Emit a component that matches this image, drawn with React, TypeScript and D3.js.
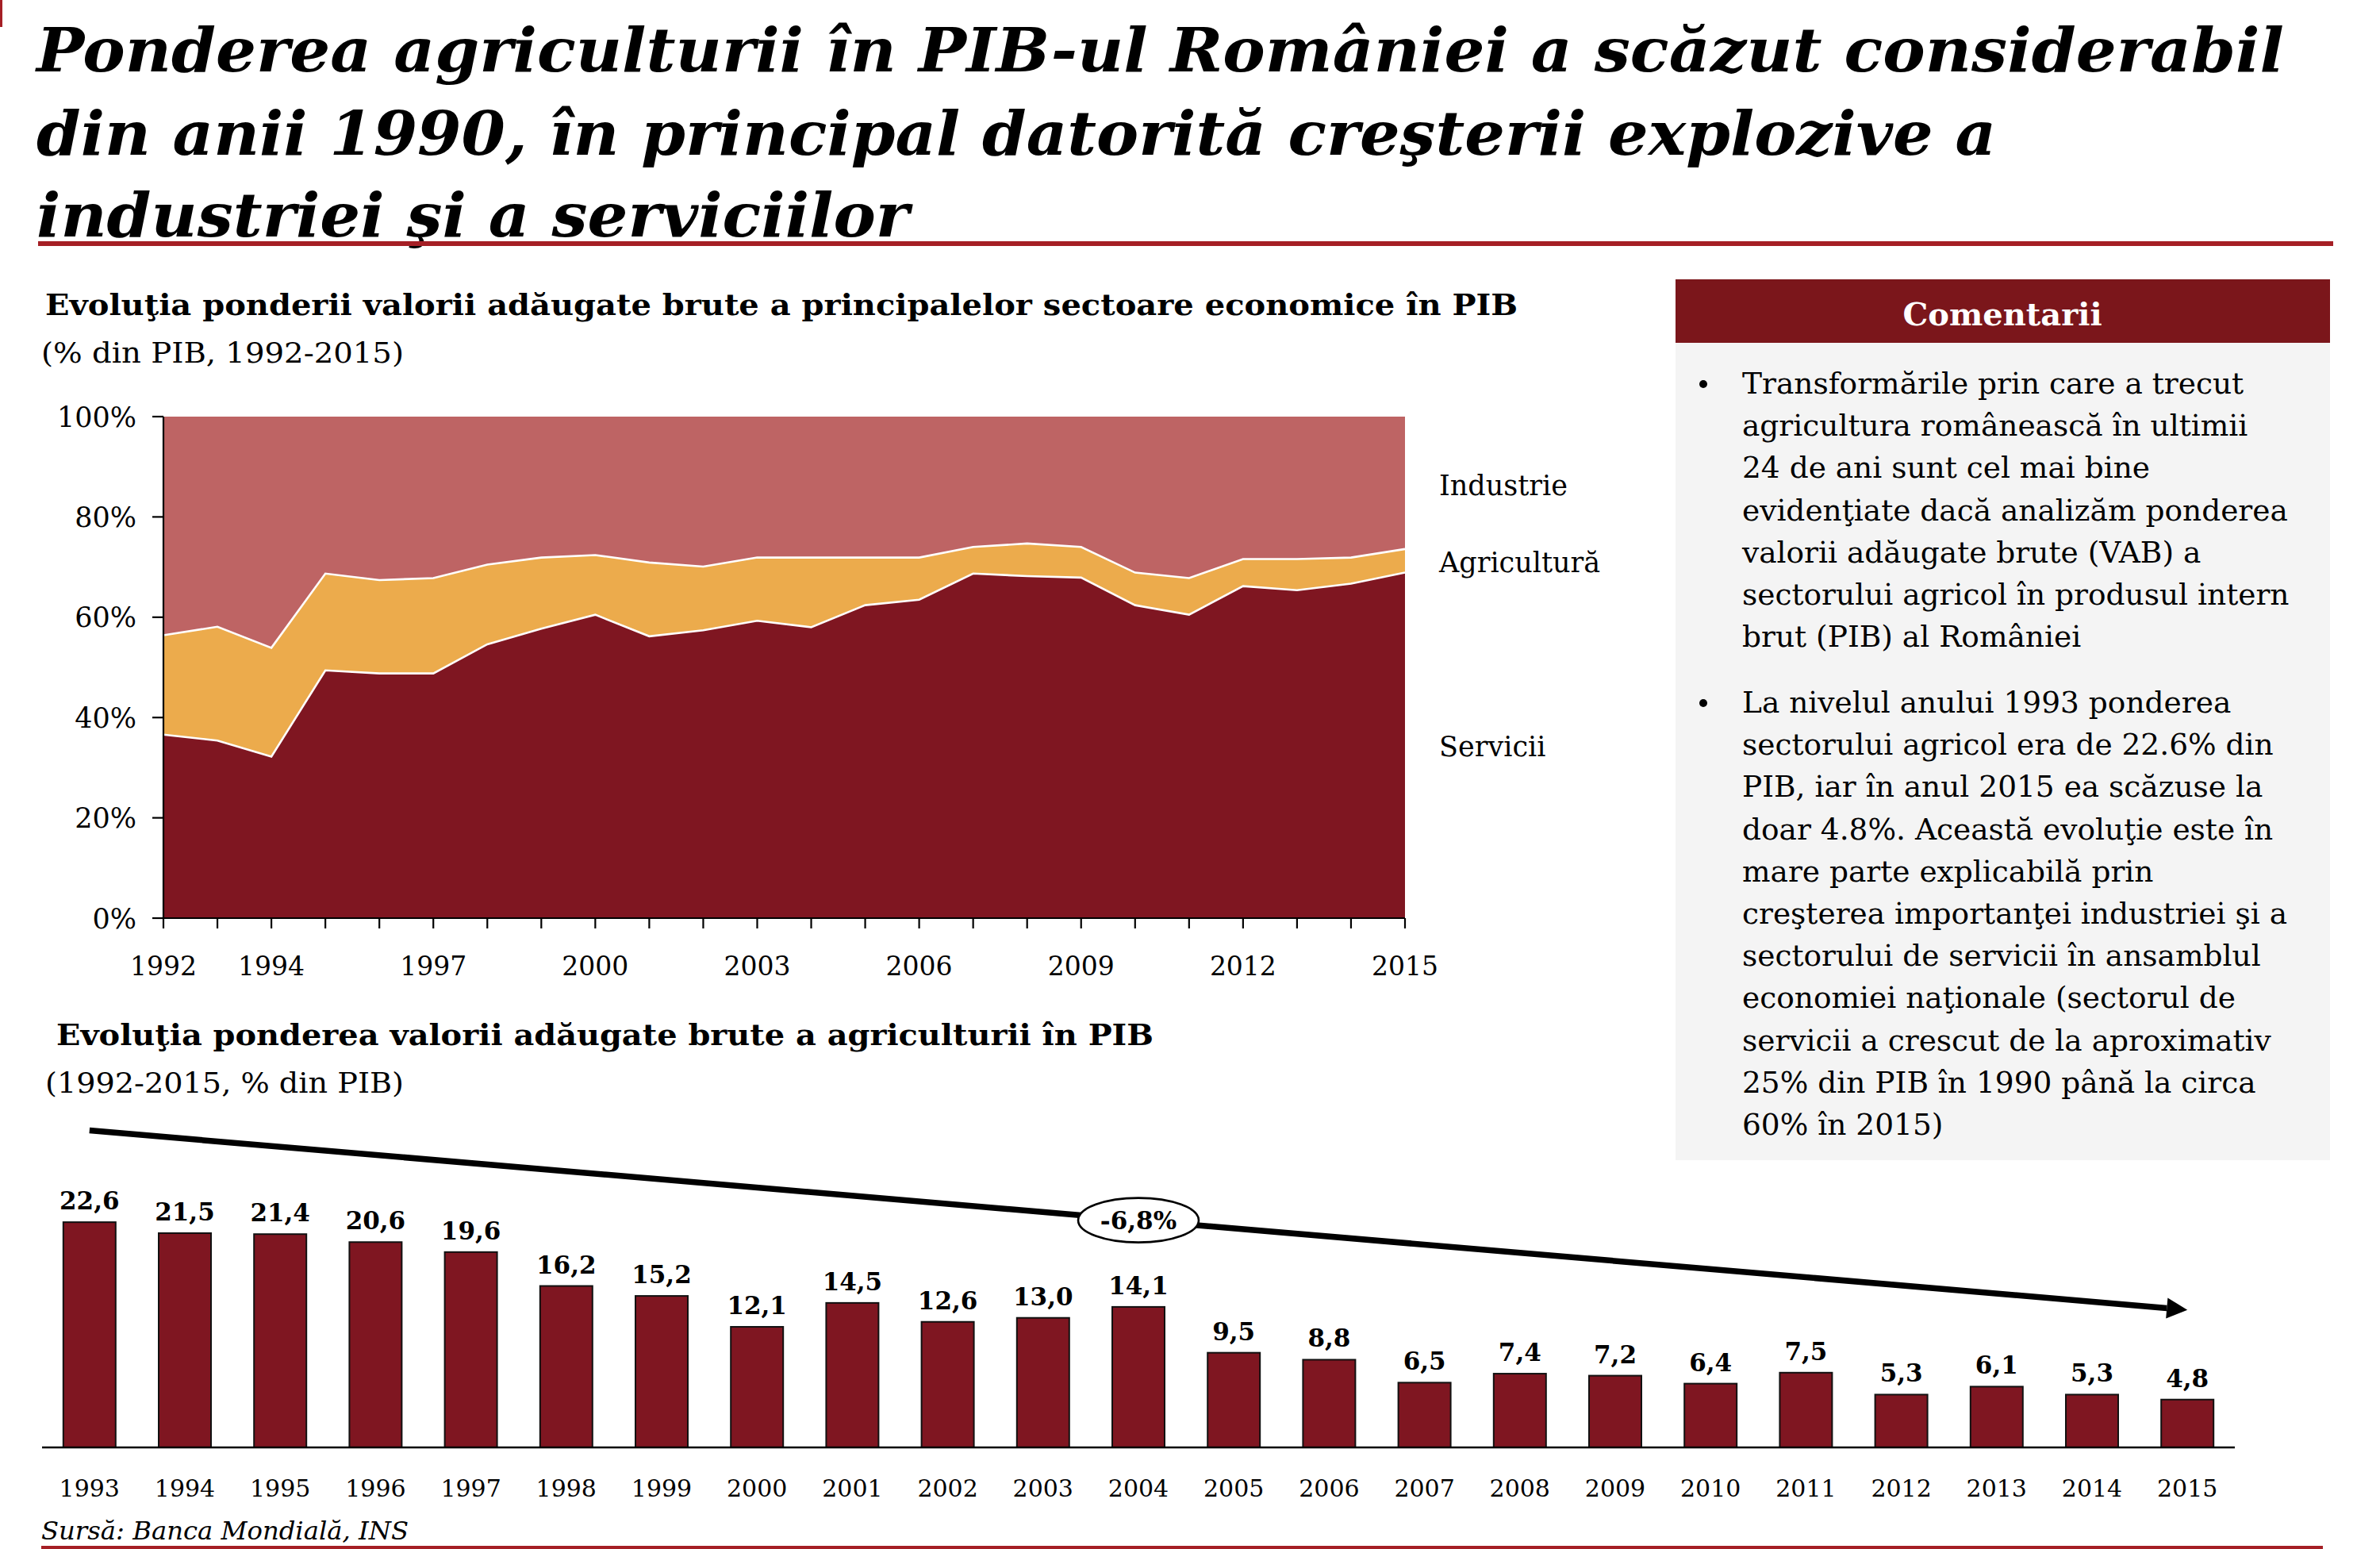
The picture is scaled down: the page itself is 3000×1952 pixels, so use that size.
import React from 'react';
import * as d3 from 'd3';

// ---------- Data ----------
const areaYears = [1992, 1993, 1994, 1995, 1996, 1997, 1998, 1999, 2000, 2001, 2002, 2003, 2004, 2005, 2006, 2007, 2008, 2009, 2010, 2011, 2012, 2013, 2014, 2015];
const servicesShare = [36.6, 35.4, 32.2, 49.4, 48.8, 48.8, 54.6, 57.7, 60.5, 56.2, 57.4, 59.3, 58.0, 62.4, 63.5, 68.7, 68.2, 67.9, 62.4, 60.5, 66.2, 65.4, 66.7, 68.9];
const agricultureShare = [19.8, 22.7, 21.7, 19.3, 18.6, 19.0, 15.9, 14.2, 11.9, 14.7, 12.7, 12.6, 13.9, 9.5, 8.4, 5.3, 6.5, 6.1, 6.5, 7.3, 5.4, 6.2, 5.2, 4.7];
const industryShare = [43.6, 41.9, 46.1, 31.3, 32.6, 32.2, 29.5, 28.1, 27.6, 29.1, 29.9, 28.1, 28.1, 28.1, 28.1, 26.0, 25.3, 26.0, 31.1, 32.2, 28.4, 28.4, 28.1, 26.4];
const areaTickLabels = [1992, 1994, 1997, 2000, 2003, 2006, 2009, 2012, 2015];
const percentTicks = [0, 20, 40, 60, 80, 100];
const sectorNames = ['Industrie', 'Agricultură', 'Servicii'];

const barYears = ['1993', '1994', '1995', '1996', '1997', '1998', '1999', '2000', '2001', '2002', '2003', '2004', '2005', '2006', '2007', '2008', '2009', '2010', '2011', '2012', '2013', '2014', '2015'];
const agricultureGdp = [22.6, 21.5, 21.4, 20.6, 19.6, 16.2, 15.2, 12.1, 14.5, 12.6, 13.0, 14.1, 9.5, 8.8, 6.5, 7.4, 7.2, 6.4, 7.5, 5.3, 6.1, 5.3, 4.8];
const trendLabel = '-6,8%';
const trendFrom = 31.8; // arrow level at start (bar-scale units)
const trendTo = 13.8;   // arrow level at end

const titleLines = [
  'Ponderea agriculturii în PIB-ul României a scăzut considerabil',
  'din anii 1990, în principal datorită creşterii explozive a',
  'industriei şi a serviciilor',
];
const bullet1 = [
  'Transformările prin care a trecut',
  'agricultura românească în ultimii',
  '24 de ani sunt cel mai bine',
  'evidenţiate dacă analizăm ponderea',
  'valorii adăugate brute (VAB) a',
  'sectorului agricol în produsul intern',
  'brut (PIB) al României',
];
const bullet2 = [
  'La nivelul anului 1993 ponderea',
  'sectorului agricol era de 22.6% din',
  'PIB, iar în anul 2015 ea scăzuse la',
  'doar 4.8%. Această evoluţie este în',
  'mare parte explicabilă prin',
  'creşterea importanţei industriei şi a',
  'sectorului de servicii în ansamblul',
  'economiei naţionale (sectorul de',
  'servicii a crescut de la aproximativ',
  '25% din PIB în 1990 până la circa',
  '60% în 2015)',
];

// ---------- Style ----------
const FONT = "'DejaVu Serif', 'Liberation Serif', serif";
const C_SERV = '#7F1621';
const C_AGRI = '#ECAB4C';
const C_IND = '#BE6464';
const C_RED = '#A51F25';
const C_HEAD = '#7B161B';

export default function App() {
  // Area chart scales
  const xA = d3.scaleLinear().domain([1992, 2015]).range([206, 1771]);
  const yA = d3.scaleLinear().domain([0, 100]).range([1157, 525]);
  const table = areaYears.map((year, i) => ({
    year,
    services: servicesShare[i],
    agriculture: agricultureShare[i],
    industry: industryShare[i],
  }));
  const stack = d3.stack<any>().keys(['services', 'agriculture', 'industry']);
  const layers = stack(table);
  const areaGen = d3
    .area<any>()
    .x((d) => xA(d.data.year))
    .y0((d) => yA(d[0]))
    .y1((d) => yA(d[1]));
  const lineGen = d3
    .line<any>()
    .x((d) => xA(d.data.year))
    .y((d) => yA(d[1]));
  const colors = [C_SERV, C_AGRI, C_IND];

  // Bar chart scales
  const xB = d3.scaleBand().domain(barYears).range([53, 2817]).paddingInner(0.451).paddingOuter(0.223);
  const yB = d3.scaleLinear().domain([0, 25]).range([1824, 1510]);
  const fmt = (v: number) => d3.format('.1f')(v).replace('.', ',');

  const bw = xB.bandwidth();
  const tx0 = (xB(barYears[0]) as number) + bw / 2;
  const tx1 = (xB(barYears[barYears.length - 1]) as number) + bw / 2;
  const ty0 = yB(trendFrom);
  const ty1 = yB(trendTo);
  const ang = Math.atan2(ty1 - ty0, tx1 - tx0);
  const headLen = 26;
  const headHalf = 13;
  const bx = tx1 - headLen * Math.cos(ang);
  const by = ty1 - headLen * Math.sin(ang);
  const px = -Math.sin(ang);
  const py = Math.cos(ang);
  const midYear = barYears[11];
  const ex = (xB(midYear) as number) + bw / 2;
  const ey = ty0 + ((ex - tx0) / (tx1 - tx0)) * (ty1 - ty0);

  const sectorLabelY = [624, 721, 953];

  return (
    <svg
      width={3000}
      height={1952}
      viewBox="0 0 3000 1952"
      style={{ position: 'absolute', left: 0, top: 0, background: '#fff' }}
      fontFamily={FONT}
    >
      <rect x={0} y={0} width={3000} height={1952} fill="#fff" />
      <rect x={0} y={0} width={3} height={34} fill={C_RED} />

      {/* Title */}
      {titleLines.map((t, i) => (
        <text
          key={i}
          x={46}
          y={[90, 195, 298][i]}
          fontSize={76}
          fontWeight="bold"
          fontStyle="italic"
          fill="#000"
          textLength={[2833, 2470, 1100][i]}
          lengthAdjust="spacingAndGlyphs"
        >
          {t}
        </text>
      ))}
      <rect x={48} y={304} width={2893} height={6} fill={C_RED} />

      {/* Area chart headings */}
      <text x={57} y={397} fontSize={37} fontWeight="bold" textLength={1856} lengthAdjust="spacingAndGlyphs">
        Evoluţia ponderii valorii adăugate brute a principalelor sectoare economice în PIB
      </text>
      <text x={52} y={457} fontSize={35} textLength={457} lengthAdjust="spacingAndGlyphs">
        (% din PIB, 1992-2015)
      </text>

      {/* Area chart */}
      {layers.map((layer, i) => (
        <path key={i} d={areaGen(layer) as string} fill={colors[i]} />
      ))}
      {layers.slice(0, 2).map((layer, i) => (
        <path key={'l' + i} d={lineGen(layer) as string} fill="none" stroke="#fff" strokeWidth={2.6} />
      ))}
      <line x1={xA(1992)} x2={xA(1992)} y1={yA(100)} y2={yA(0)} stroke="#000" strokeWidth={2.2} />
      <line x1={xA(1992)} x2={xA(2015)} y1={yA(0)} y2={yA(0)} stroke="#000" strokeWidth={2.2} />
      {percentTicks.map((t) => (
        <g key={t}>
          <line x1={xA(1992) - 14} x2={xA(1992)} y1={yA(t)} y2={yA(t)} stroke="#000" strokeWidth={2.2} />
          <text x={172} y={yA(t)} dy="0.36em" fontSize={35} textAnchor="end">
            {t + '%'}
          </text>
        </g>
      ))}
      {areaYears.map((yr) => (
        <line key={yr} x1={xA(yr)} x2={xA(yr)} y1={yA(0)} y2={yA(0) + 13} stroke="#000" strokeWidth={2.2} />
      ))}
      {areaTickLabels.map((yr) => (
        <text key={yr} x={xA(yr)} y={1229} fontSize={33} textAnchor="middle">
          {yr}
        </text>
      ))}
      {sectorNames.map((n, i) => (
        <text key={n} x={1814} y={sectorLabelY[i]} fontSize={35}>
          {n}
        </text>
      ))}

      {/* Comments box */}
      <rect x={2112} y={352} width={825} height={80} fill={C_HEAD} />
      <text x={2524} y={410} fontSize={40} fontWeight="bold" fill="#fff" textAnchor="middle">
        Comentarii
      </text>
      <rect x={2112} y={432} width={825} height={1030} fill="#F4F4F4" />
      <circle cx={2147} cy={484} r={5} fill="#000" />
      {bullet1.map((t, i) => (
        <text key={i} x={2196} y={496 + i * 53.2} fontSize={37.5}>
          {t}
        </text>
      ))}
      <circle cx={2147} cy={886} r={5} fill="#000" />
      {bullet2.map((t, i) => (
        <text key={i} x={2196} y={898 + i * 53.2} fontSize={37.5}>
          {t}
        </text>
      ))}

      {/* Bar chart headings */}
      <text x={71} y={1317} fontSize={37} fontWeight="bold" textLength={1383} lengthAdjust="spacingAndGlyphs">
        Evoluţia ponderea valorii adăugate brute a agriculturii în PIB
      </text>
      <text x={57} y={1377} fontSize={35} textLength={452} lengthAdjust="spacingAndGlyphs">
        (1992-2015, % din PIB)
      </text>

      {/* Trend arrow */}
      <line x1={tx0} y1={ty0} x2={bx} y2={by} stroke="#000" strokeWidth={7.5} />
      <polygon
        points={`${tx1},${ty1} ${bx + px * headHalf},${by + py * headHalf} ${bx - px * headHalf},${by - py * headHalf}`}
        fill="#000"
      />
      <ellipse cx={ex} cy={ey} rx={76} ry={28} fill="#fff" stroke="#000" strokeWidth={2.6} />
      <text x={ex} y={ey} dy="0.36em" fontSize={31} fontWeight="bold" textAnchor="middle">
        {trendLabel}
      </text>

      {/* Bars */}
      {barYears.map((yr, i) => {
        const v = agricultureGdp[i];
        const x = xB(yr) as number;
        return (
          <g key={yr}>
            <rect x={x} y={yB(v)} width={bw} height={yB(0) - yB(v)} fill={C_SERV} stroke="#111" strokeWidth={2} />
            <text x={x + bw / 2} y={yB(v) - 16} fontSize={31} fontWeight="bold" textAnchor="middle">
              {fmt(v)}
            </text>
            <text x={x + bw / 2} y={1886} fontSize={30} textAnchor="middle">
              {yr}
            </text>
          </g>
        );
      })}
      <line x1={53} x2={2817} y1={yB(0)} y2={yB(0)} stroke="#000" strokeWidth={2.6} />

      {/* Source */}
      <text x={52} y={1940} fontSize={32} fontStyle="italic" textLength={463} lengthAdjust="spacingAndGlyphs">
        Sursă: Banca Mondială, INS
      </text>
      <rect x={52} y={1948} width={2876} height={4} fill={C_RED} />
    </svg>
  );
}
